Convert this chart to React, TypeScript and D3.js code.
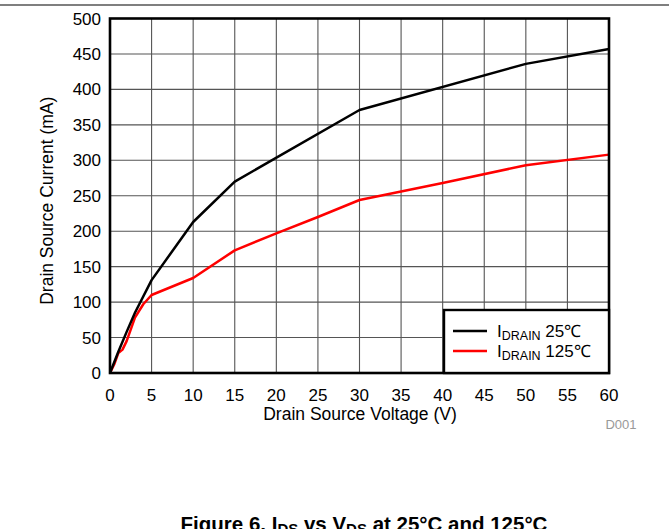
import React from "react";
import * as d3 from "d3";

const W = 669;
const H = 529;

const xTicks = [0, 5, 10, 15, 20, 25, 30, 35, 40, 45, 50, 55, 60];
const yTicks = [0, 50, 100, 150, 200, 250, 300, 350, 400, 450, 500];

const vds25 = [0, 1, 2, 3, 5, 10, 15, 30, 50, 60];
const ids25 = [0, 30, 58, 85, 131, 213, 270, 371, 436, 457];

const vds125 = [0, 0.5, 1, 1.5, 2, 3, 4, 5, 10, 15, 20, 25, 30, 40, 50, 60];
const ids125 = [0, 12, 28, 33, 45, 78, 97, 110, 134, 173, 197, 220, 244, 268, 293, 308];

const xTitle = "Drain Source Voltage (V)";
const yTitle = "Drain Source Current (mA)";

export default function App() {
  const x = d3.scaleLinear().domain([0, 60]).range([110, 609]);
  const y = d3.scaleLinear().domain([0, 500]).range([373, 18.5]);
  const line = d3
    .line<[number, number]>()
    .x((d) => x(d[0]))
    .y((d) => y(d[1]));
  const d25 = line(vds25.map((v, i) => [v, ids25[i]]) as [number, number][]) || "";
  const d125 = line(vds125.map((v, i) => [v, ids125[i]]) as [number, number][]) || "";
  const font = "Arial, 'Liberation Sans', Helvetica, sans-serif";

  return (
    <div style={{ position: "absolute", left: 0, top: 0 }}>
      <svg width={W} height={H} style={{ display: "block", fontFamily: font }}>
        <rect width={W} height={H} fill="#fff" />
        <line x1={0} x2={W} y1={5} y2={5} stroke="#000" strokeWidth={1.2} />
        {/* grid */}
        {xTicks.map((t) => (
          <line key={"gx" + t} x1={x(t)} x2={x(t)} y1={y(0)} y2={y(500)} stroke="#555" strokeWidth={1.1} />
        ))}
        {yTicks.map((t) => (
          <line key={"gy" + t} x1={x(0)} x2={x(60)} y1={y(t)} y2={y(t)} stroke="#555" strokeWidth={1.1} />
        ))}
        {/* curves */}
        <path d={d125} fill="none" stroke="#ff0000" strokeWidth={2.5} strokeLinejoin="round" />
        <path d={d25} fill="none" stroke="#000" strokeWidth={2.5} strokeLinejoin="round" />
        {/* frame */}
        <rect x={x(0)} y={y(500)} width={x(60) - x(0)} height={y(0) - y(500)} fill="none" stroke="#000" strokeWidth={2.6} />
        {/* tick labels */}
        {yTicks.map((t) => (
          <text key={"ty" + t} x={101} y={y(t) + 6} textAnchor="end" fontSize={17} fill="#000">
            {t}
          </text>
        ))}
        {xTicks.map((t) => (
          <text key={"tx" + t} x={x(t)} y={401} textAnchor="middle" fontSize={17} fill="#000">
            {t}
          </text>
        ))}
        <text x={360} y={420} textAnchor="middle" fontSize={17.5} fill="#000">
          {xTitle}
        </text>
        <text
          transform={`translate(53, ${(y(0) + y(500)) / 2 + 5}) rotate(-90)`}
          textAnchor="middle"
          fontSize={17.5}
          fill="#000"
        >
          {yTitle}
        </text>
        {/* legend */}
        <rect x={444} y={310} width={x(60) - 444} height={y(0) - 310} fill="#fff" stroke="#000" strokeWidth={2.4} />
        <line x1={453} x2={487} y1={331} y2={331} stroke="#000" strokeWidth={2.5} />
        <line x1={453} x2={487} y1={351} y2={351} stroke="#ff0000" strokeWidth={2.5} />
        <text x={497} y={336.5} fontSize={17} fill="#000">
          I<tspan fontSize={12.5} dy={3}>DRAIN</tspan>
          <tspan dy={-3}> 25℃</tspan>
        </text>
        <text x={497} y={357} fontSize={17} fill="#000">
          I<tspan fontSize={12.5} dy={3}>DRAIN</tspan>
          <tspan dy={-3}> 125℃</tspan>
        </text>
        <text x={621} y={429} textAnchor="middle" fontSize={13} fill="#999">
          D001
        </text>
        {/* caption */}
        <text x={364} y={531} textAnchor="middle" fontSize={20.5} fontWeight="bold" fill="#000">
          Figure 6. I<tspan fontSize={15} dy={3}>DS</tspan>
          <tspan dy={-3}> vs V</tspan>
          <tspan fontSize={15} dy={3}>DS</tspan>
          <tspan dy={-3}> at 25°C and 125°C</tspan>
        </text>
      </svg>
    </div>
  );
}
